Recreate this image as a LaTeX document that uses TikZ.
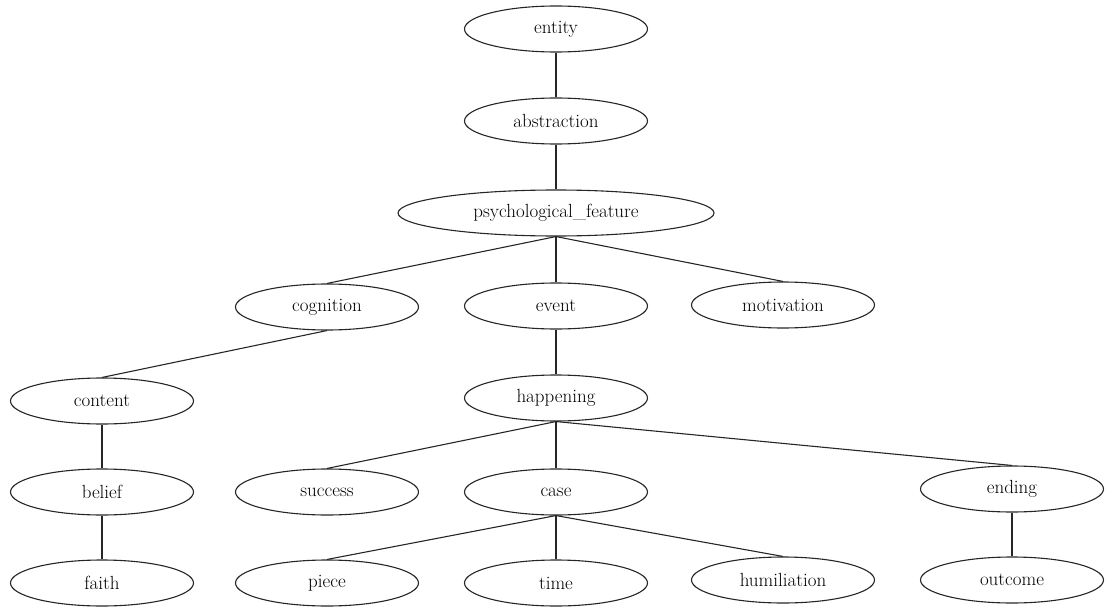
\documentclass[tikz,border=0pt]{standalone}
\usepackage{tikz}
\usetikzlibrary{shapes.geometric}

\begin{document}
\begin{tikzpicture}[x=1pt, y=-1pt,
    concept/.style={ellipse, draw=black!85, line width=1.1pt, minimum width=183pt, minimum height=46pt, inner sep=0pt, font=\fontsize{19}{22}\selectfont},
    wide/.style={concept, minimum width=316pt},
    link/.style={draw=black!85, line width=1.1pt}]

    \useasboundingbox (0,0) rectangle (1106,610);

    % Top chain
    \node[concept] (entity) at (556,29) {entity};
    \node[concept] (abstraction) at (556,121) {abstraction};
    \node[wide] (psych) at (556,213) {psychological\_feature};

    % Third row
    \node[concept] (cognition) at (327,307) {cognition};
    \node[concept] (event) at (556,306) {event};
    \node[concept] (motivation) at (783,305) {motivation};

    % Fourth row
    \node[concept] (content) at (102,401) {content};
    \node[concept] (happening) at (556,398) {happening};

    % Fifth row
    \node[concept] (belief) at (102,492) {belief};
    \node[concept] (success) at (327,492) {success};
    \node[concept] (case) at (556,492) {case};
    \node[concept] (ending) at (1012,489) {ending};

    % Bottom row
    \node[concept] (faith) at (102,583) {faith};
    \node[concept] (piece) at (327,583) {piece};
    \node[concept] (time) at (556,583) {time};
    \node[concept] (humiliation) at (783,580) {humiliation};
    \node[concept] (outcome) at (1012,580) {outcome};

    % Edges
    \draw[link] (entity.south) -- (abstraction.north);
    \draw[link] (abstraction.south) -- (psych.north);
    \draw[link] (psych.south) -- (cognition.north);
    \draw[link] (psych.south) -- (event.north);
    \draw[link] (psych.south) -- (motivation.north);
    \draw[link] (cognition.south) -- (content.north);
    \draw[link] (event.south) -- (happening.north);
    \draw[link] (content.south) -- (belief.north);
    \draw[link] (belief.south) -- (faith.north);
    \draw[link] (happening.south) -- (success.north);
    \draw[link] (happening.south) -- (case.north);
    \draw[link] (happening.south) -- (ending.north);
    \draw[link] (case.south) -- (piece.north);
    \draw[link] (case.south) -- (time.north);
    \draw[link] (case.south) -- (humiliation.north);
    \draw[link] (ending.south) -- (outcome.north);

\end{tikzpicture}
\end{document}
